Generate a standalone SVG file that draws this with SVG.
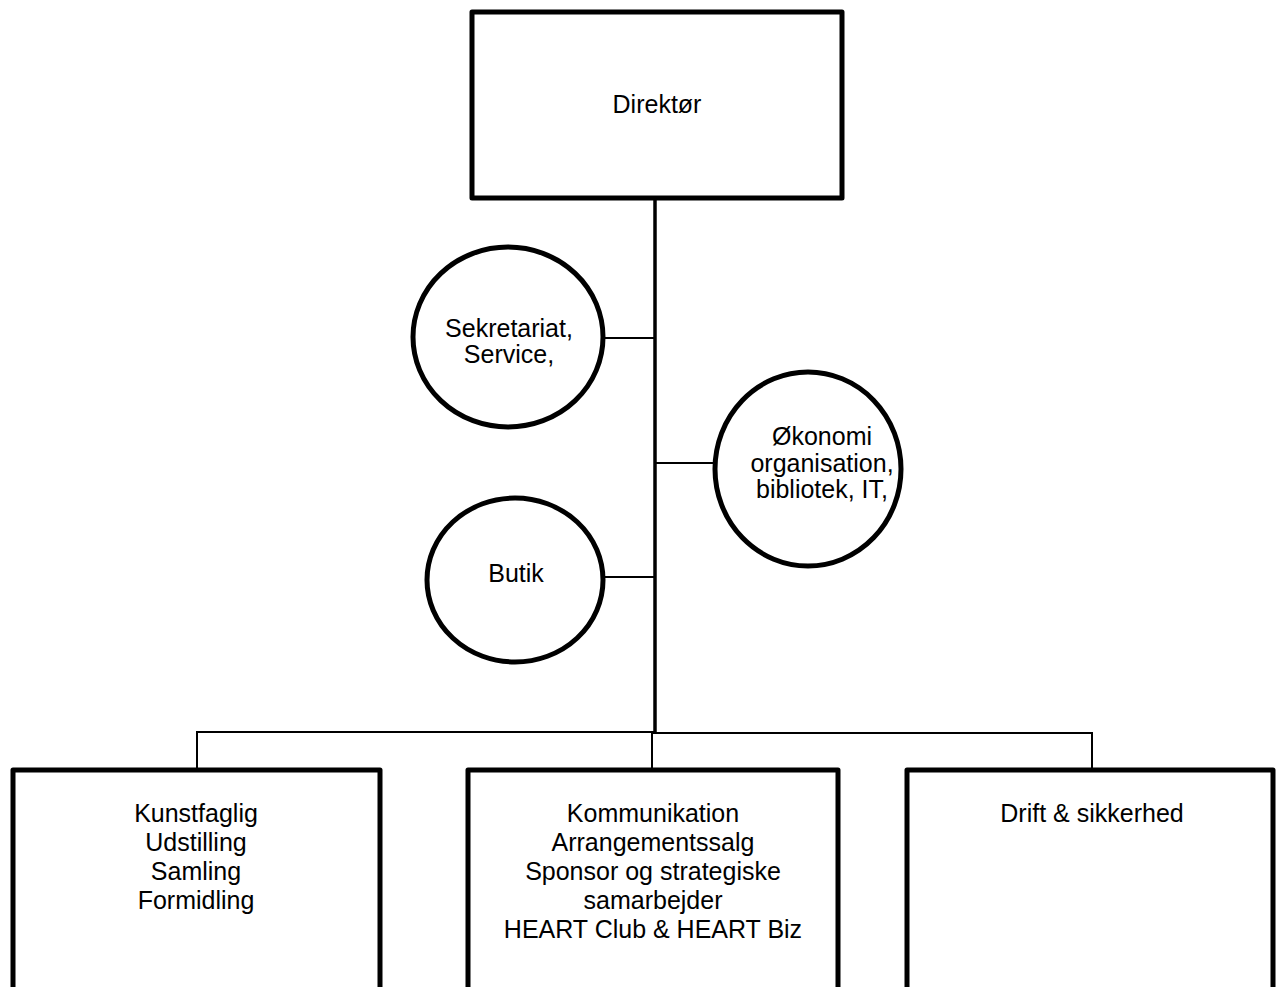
<svg xmlns="http://www.w3.org/2000/svg" width="1276" height="987" viewBox="0 0 1276 987">
<style>
.box{fill:#fff;stroke:#000;stroke-width:5;stroke-linejoin:round}
.circ{fill:#fff;stroke:#000;stroke-width:5}
.ln{fill:none;stroke:#000;stroke-width:2}
.trunk{fill:none;stroke:#000;stroke-width:3.5}
text{font-family:"Liberation Sans",Arial,sans-serif;font-size:25px;fill:#000;text-anchor:middle}
</style>
<rect width="1276" height="987" fill="#fff"/>
<g id="connectors">
<line class="trunk" x1="655" y1="198" x2="655" y2="733"/>
<line class="ln" x1="603" y1="338" x2="655" y2="338"/>
<line class="ln" x1="655" y1="463" x2="715" y2="463"/>
<line class="ln" x1="603" y1="577" x2="655" y2="577"/>
<polyline class="ln" points="197,770 197,732 655,732"/>
<polyline class="ln" points="652,733 1092,733 1092,770"/>
<line class="ln" x1="652" y1="733" x2="652" y2="770"/>
</g>
<g id="direktor">
<rect class="box" x="472" y="12" width="370" height="186"/>
<text x="657" y="113">Direktør</text>
</g>
<g id="sekretariat">
<ellipse class="circ" cx="508" cy="337" rx="95" ry="90"/>
<text x="509" y="337">Sekretariat,</text>
<text x="509" y="363">Service,</text>
</g>
<g id="okonomi">
<ellipse class="circ" cx="808" cy="469" rx="93" ry="97"/>
<text x="822" y="445">Økonomi</text>
<text x="822" y="472">organisation,</text>
<text x="822" y="498">bibliotek, IT,</text>
</g>
<g id="butik">
<ellipse class="circ" cx="515" cy="580" rx="88" ry="82"/>
<text x="516" y="582">Butik</text>
</g>
<g id="kunstfaglig">
<rect class="box" x="13" y="770" width="367" height="240"/>
<text x="196" y="822">Kunstfaglig</text>
<text x="196" y="851">Udstilling</text>
<text x="196" y="880">Samling</text>
<text x="196" y="909">Formidling</text>
</g>
<g id="kommunikation">
<rect class="box" x="468" y="770" width="370" height="240"/>
<text x="653" y="822">Kommunikation</text>
<text x="653" y="851">Arrangementssalg</text>
<text x="653" y="880">Sponsor og strategiske</text>
<text x="653" y="909">samarbejder</text>
<text x="653" y="938">HEART Club &amp; HEART Biz</text>
</g>
<g id="drift">
<rect class="box" x="907" y="770" width="366" height="240"/>
<text x="1092" y="822">Drift &amp; sikkerhed</text>
</g>
</svg>
